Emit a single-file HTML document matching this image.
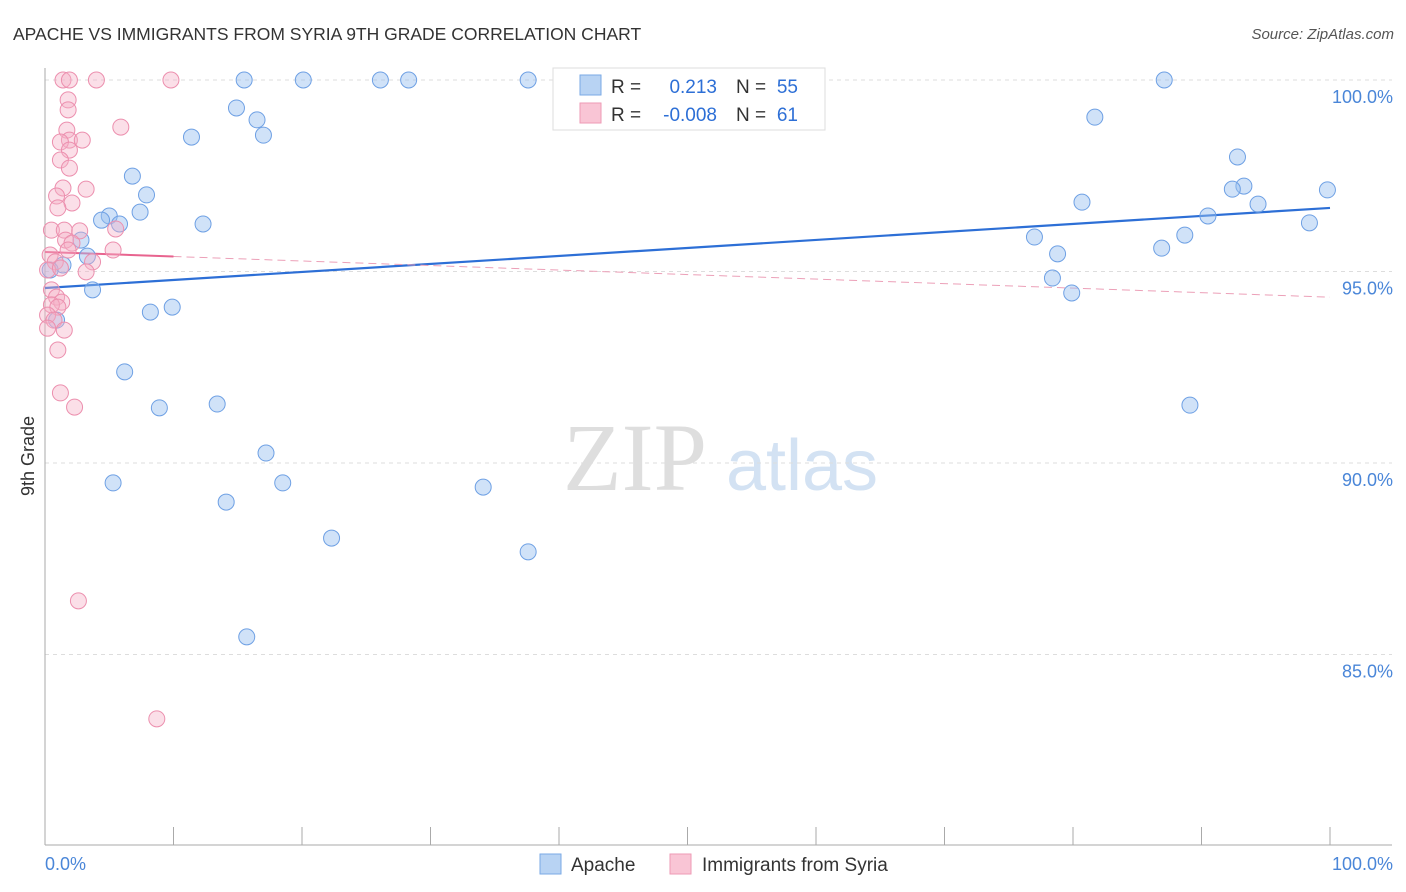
<!DOCTYPE html>
<html><head><meta charset="utf-8"><style>
body{margin:0;background:#fff;font-family:"Liberation Sans",sans-serif;}
svg{display:block}
</style></head><body>
<svg id="c" width="1406" height="892" xmlns="http://www.w3.org/2000/svg">
<text x="13" y="40" font-size="17.5" fill="#333">APACHE VS IMMIGRANTS FROM SYRIA 9TH GRADE CORRELATION CHART</text>
<text x="1394" y="39" font-size="15" fill="#555" font-style="italic" text-anchor="end">Source: ZipAtlas.com</text>
<g>
<text x="635" y="490" font-size="96" font-family="Liberation Serif,serif" fill="#dedede" text-anchor="middle">ZIP</text>
<text x="802" y="490" font-size="72" fill="#d3e2f3" text-anchor="middle">atlas</text>
</g>
<g id="grid"></g>
<g id="axes"></g>
<text transform="translate(34,456) rotate(-90)" font-size="18" fill="#333" text-anchor="middle">9th Grade</text>
<g id="lines"></g>
<g id="pts"></g>
<g>
<rect x="553" y="68" width="272" height="62" fill="#fff" stroke="#ddd"/>
<rect x="580" y="75" width="21" height="20" fill="#b8d3f3" stroke="#7aaae6"/>
<rect x="580" y="103" width="21" height="20" fill="#f9c5d5" stroke="#ee9ab5"/>
<text x="611" y="93" font-size="19" fill="#333">R =</text>
<text x="717" y="93" font-size="19" fill="#2d6fd6" text-anchor="end">0.213</text>
<text x="736" y="93" font-size="19" fill="#333">N =</text>
<text x="798" y="93" font-size="19" fill="#2d6fd6" text-anchor="end">55</text>
<text x="611" y="121" font-size="19" fill="#333">R =</text>
<text x="717" y="121" font-size="19" fill="#2d6fd6" text-anchor="end">-0.008</text>
<text x="736" y="121" font-size="19" fill="#333">N =</text>
<text x="798" y="121" font-size="19" fill="#2d6fd6" text-anchor="end">61</text>
</g>
<g>
<rect x="540" y="854" width="21" height="20" fill="#b8d3f3" stroke="#7aaae6"/>
<text x="571" y="871" font-size="19" fill="#333">Apache</text>
<rect x="670" y="854" width="21" height="20" fill="#f9c5d5" stroke="#ee9ab5"/>
<text x="702" y="871" font-size="19" fill="#333">Immigrants from Syria</text>
</g>
<text x="45" y="870" font-size="18" fill="#4a86d8">0.0%</text>
<text x="1393" y="870" font-size="18" fill="#4a86d8" text-anchor="end">100.0%</text>
</svg>
<script>
const yTicks=[100,95,90,85];
const yTickLabels=["100.0%","95.0%","90.0%","85.0%"];
const blueX=[15.5,20.1,26.1,28.3,37.6,87.1,14.9,16.5,11.4,17.0,81.7,6.8,7.9,7.4,5.0,4.4,5.8,12.3,2.8,3.3,1.4,3.7,8.2,9.9,6.2,8.9,13.4,17.2,5.3,14.1,18.5,22.3,34.1,37.6,15.7,92.8,93.3,92.4,99.8,94.4,80.7,90.5,98.4,88.7,86.9,77.0,78.8,78.4,79.9,89.1,0.9,0.4];
const blueY=[100,100,100,100,100,100,99.27,98.96,98.51,98.56,99.03,97.49,97.0,96.55,96.45,96.34,96.24,96.24,95.82,95.4,95.17,94.52,93.94,94.07,92.38,91.44,91.54,90.26,89.48,88.98,89.48,88.04,89.37,87.68,85.46,97.99,97.23,97.15,97.13,96.76,96.81,96.45,96.27,95.95,95.61,95.9,95.46,94.83,94.44,91.51,93.73,95.04];
const pinkX=[1.4,1.9,4.0,9.8,1.8,1.8,5.9,1.7,1.9,2.9,1.2,1.9,1.2,1.9,1.4,3.2,0.9,2.1,1.0,0.5,1.5,2.7,5.5,1.6,2.1,5.3,1.8,0.4,0.8,3.7,0.2,1.2,3.2,0.5,0.9,1.3,0.5,1.0,0.2,0.7,1.5,0.2,1.0,1.2,2.3,2.6,8.7];
const pinkY=[100,100,100,100,99.48,99.22,98.77,98.69,98.43,98.43,98.38,98.17,97.91,97.7,97.18,97.15,96.97,96.79,96.66,96.08,96.08,96.06,96.11,95.82,95.74,95.56,95.56,95.43,95.25,95.25,95.04,95.09,94.99,94.52,94.33,94.2,94.13,94.07,93.86,93.73,93.47,93.52,92.95,91.83,91.46,86.4,83.32];
const blueTrend=[94.57,96.66];
const pinkTrend=[95.51,94.33];
const NS="http://www.w3.org/2000/svg";
const X=v=>45+v*12.85, Y=v=>80+(100-v)*38.3;
function mk(t,a,p){const e=document.createElementNS(NS,t);for(const k in a)e.setAttribute(k,a[k]);document.getElementById(p).appendChild(e);return e;}
yTicks.forEach((t,i)=>{
 const l=mk('line',{x1:45,x2:1392,y1:Y(t),y2:Y(t),stroke:'#ddd','stroke-dasharray':'4,4'},'grid');
 
 
 const tx=mk('text',{x:1393,y:Y(t)+23,'font-size':18,fill:'#4a86d8','text-anchor':'end'},'grid');
 tx.textContent=yTickLabels[i];
 
 
});
let ax=mk('line',{x1:45,x2:45,y1:68,y2:845,stroke:'#aaa'},'axes');


ax=mk('line',{x1:45,x2:1392,y1:845,y2:845,stroke:'#aaa'},'axes');


for(let i=0;i<=10;i++){
 const t=mk('line',{x1:X(i*10),x2:X(i*10),y1:827,y2:845,stroke:'#aaa'},'axes');
 
 
}
blueX.forEach((x,i)=>{
 const c=mk('circle',{cx:X(x),cy:Y(blueY[i]),r:8,fill:'rgba(150,190,240,0.45)',stroke:'#6ea0e4','stroke-width':1},'pts');
 
 
});
pinkX.forEach((x,i)=>{
 const c=mk('circle',{cx:X(x),cy:Y(pinkY[i]),r:8,fill:'rgba(246,175,198,0.4)',stroke:'#ec8fae','stroke-width':1},'pts');
 
 
});
let tl=mk('line',{x1:X(0),y1:Y(blueTrend[0]),x2:X(100),y2:Y(blueTrend[1]),stroke:'#2d6fd6','stroke-width':2.2},'lines');


const pm=pinkTrend[0]+(pinkTrend[1]-pinkTrend[0])*0.1;
tl=mk('line',{x1:X(0),y1:Y(pinkTrend[0]),x2:X(10),y2:Y(pm),stroke:'#e8648f','stroke-width':2},'lines');


tl=mk('line',{x1:X(10),y1:Y(pm),x2:X(100),y2:Y(pinkTrend[1]),stroke:'#eca0b8','stroke-width':1,'stroke-dasharray':'8,5'},'lines');


</script>
</body></html>
